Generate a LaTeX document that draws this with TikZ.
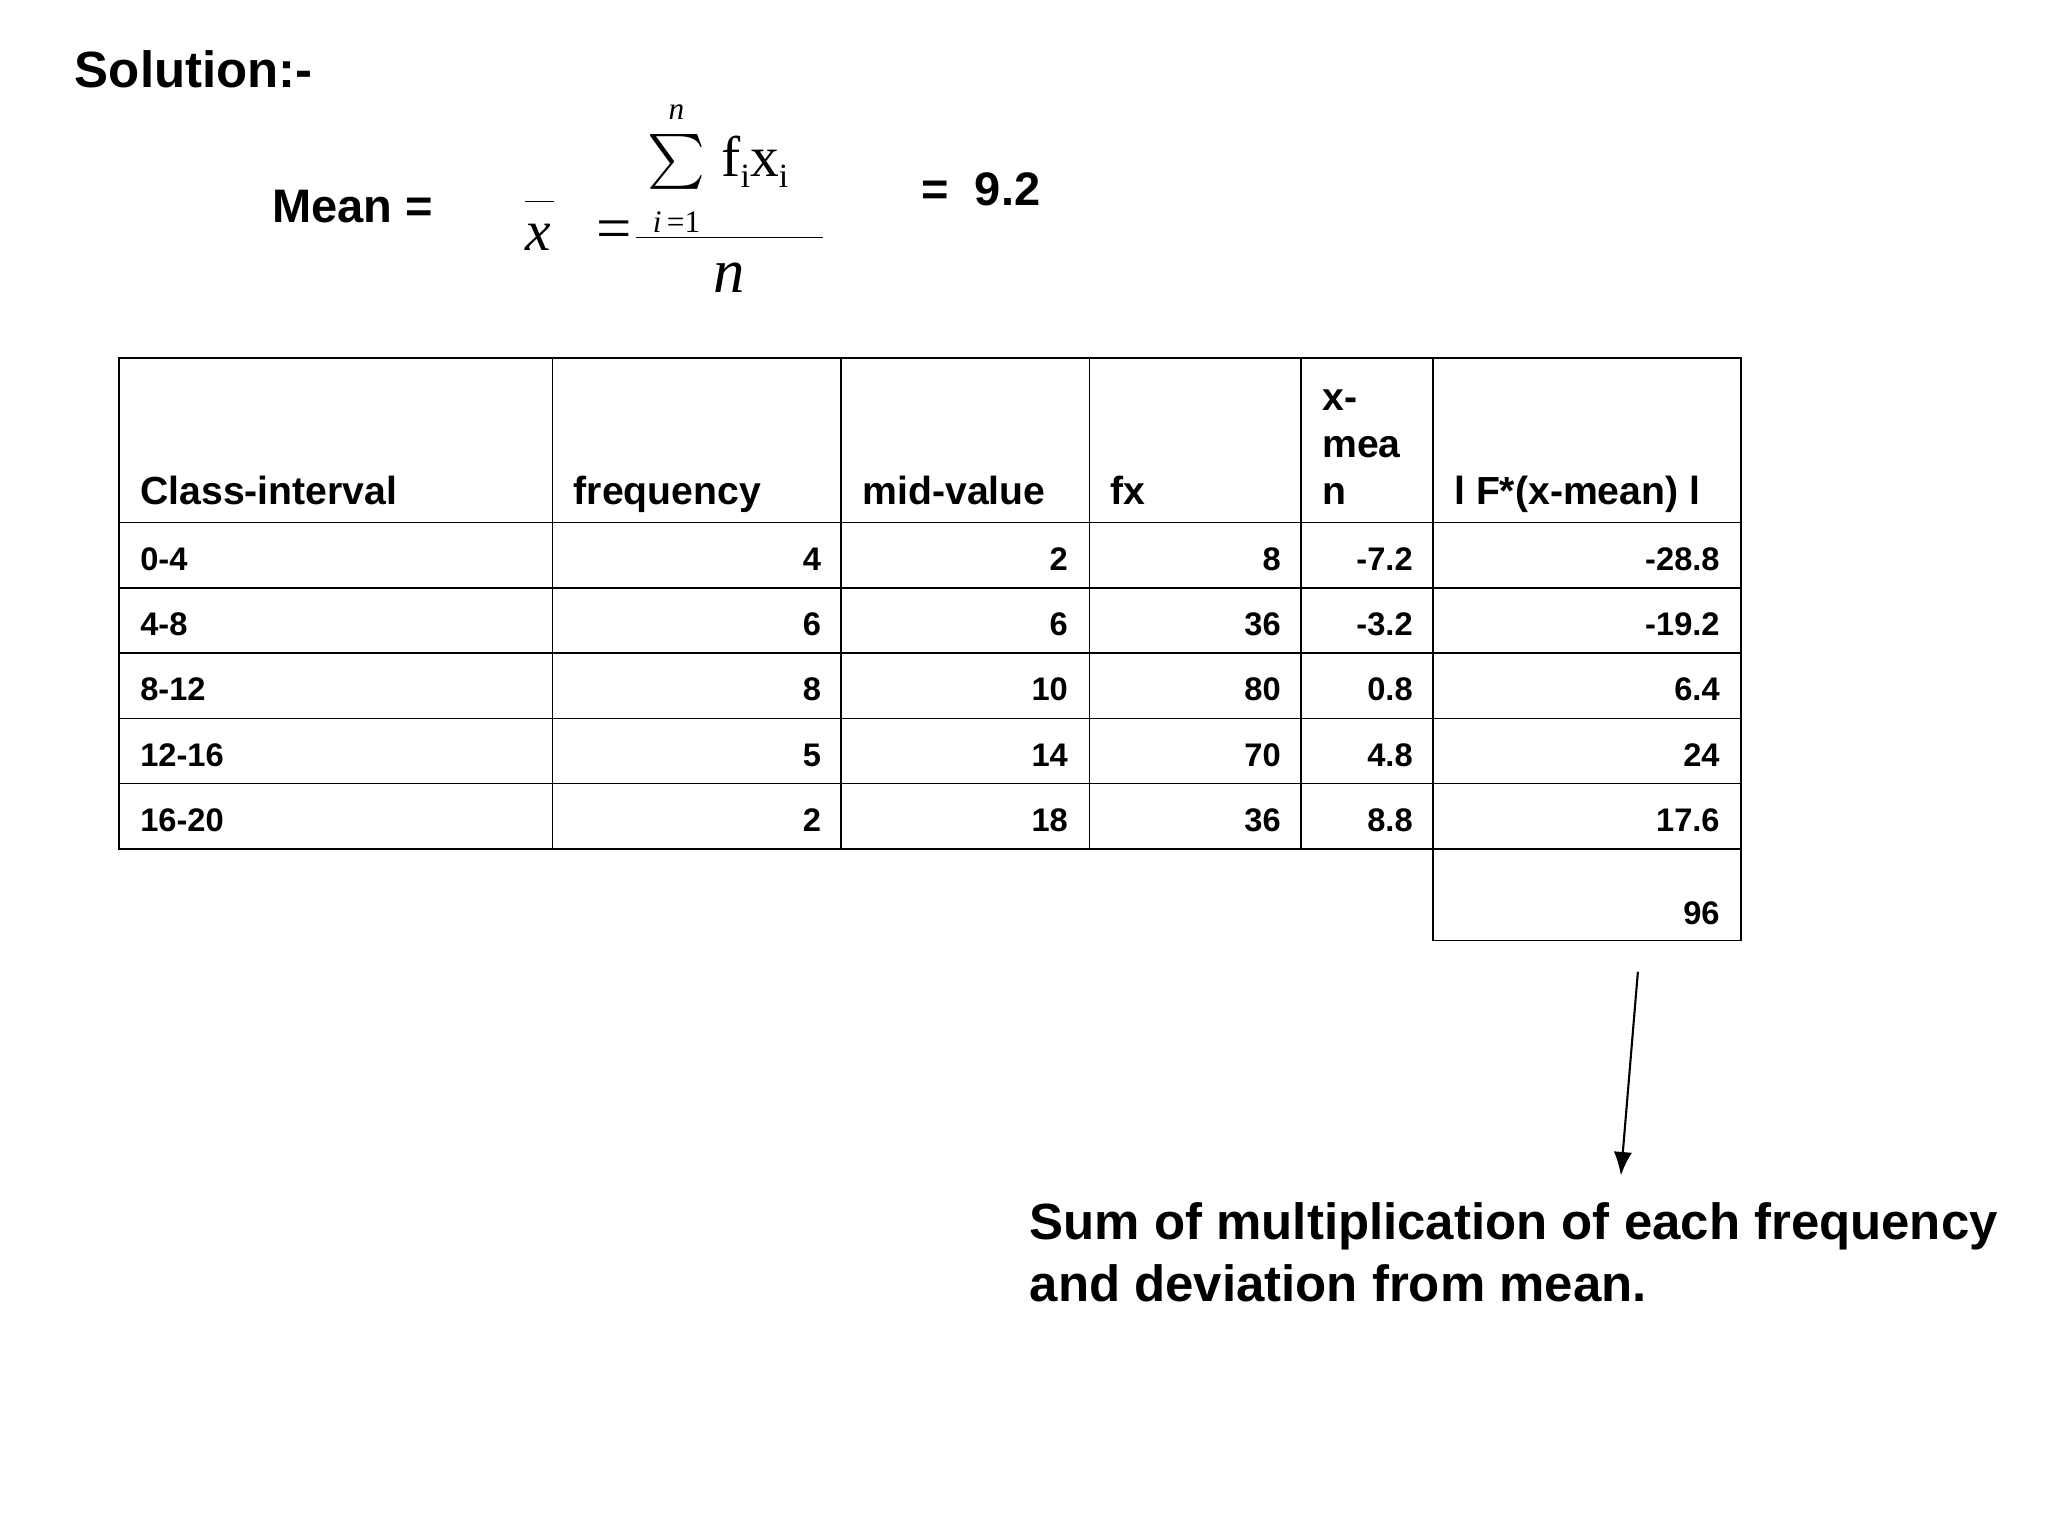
\documentclass[tikz,border=0pt]{standalone}
\usepackage{fontspec}
\usetikzlibrary{arrows.meta}
\setmainfont{Liberation Sans}
\newfontfamily\serifx{Liberation Serif}
\begin{document}
\begin{tikzpicture}[x=0.5pt,y=-0.5pt,
  hd/.style={font=\bfseries\fontsize{15}{18}\selectfont,inner sep=0},
  dt/.style={font=\bfseries\fontsize{12.5}{15}\selectfont,inner sep=0},
  big/.style={font=\bfseries\fontsize{19.5}{24}\selectfont,inner sep=0},
  sr/.style={font=\serifx,inner sep=0},
  cell/.style={draw=black,line width=0.6pt}]
\useasboundingbox (0,0) rectangle (1568,1176);
\node[big,anchor=west] (sol) at (57,53) {Solution:-};
\node[font=\bfseries\fontsize{18}{22}\selectfont,anchor=west,inner sep=0] (mean) at (208,158) {Mean =};
\node[font=\bfseries\fontsize{18}{22}\selectfont,anchor=west,inner sep=0] (res) at (705,145) {=\ \ 9.2};
% formula
\node[sr,font=\serifx\itshape\fontsize{22}{26}\selectfont] (xb) at (412,182) {x};
\draw (402,154) -- (424,154);
\node[sr,font=\serifx\fontsize{24}{26}\selectfont] (eq) at (470,180) {=};
\node[inner sep=0] (sum) at (518,124) {\scalebox{2.1}{$\sum$}};
\node[sr,font=\serifx\itshape\fontsize{12}{14}\selectfont] (nt) at (518,86) {n};
\node[sr,font=\serifx\fontsize{12}{14}\selectfont] (ib) at (518,170) {\textit{i}\,=1};
\node[sr,font=\serifx\fontsize{22}{26}\selectfont,anchor=west] (fx) at (552,124) {f\raisebox{-0.4ex}{\fontsize{13}{14}\selectfont i}x\raisebox{-0.4ex}{\fontsize{13}{14}\selectfont i}};
\draw (487,182) -- (630,182);
\node[sr,font=\serifx\itshape\fontsize{24}{26}\selectfont] (nb) at (558,213) {n};
% table
\foreach \a/\b in {91/423,423/644,644/834,834/996,996/1097,1097/1333}{
  \draw[cell] (\a,274) rectangle (\b,400);
  \foreach \r in {400,450,500,550,600}{\draw[cell] (\a,\r) rectangle (\b,\r+50);}
}
\draw[cell] (1097,650) rectangle (1333,720);
\node[hd,anchor=base west] (h1) at (107,386) {Class-interval};
\node[hd,anchor=base west] (h2) at (439,386) {frequency};
\node[hd,anchor=base west] (h3) at (660,386) {mid-value};
\node[hd,anchor=base west] (h4) at (850,386) {fx};
\node[hd,anchor=base west] (h5a) at (1012,314) {x-};
\node[hd,anchor=base west] (h5b) at (1012,350) {mea};
\node[hd,anchor=base west] (h5c) at (1012,386) {n};
\node[hd,anchor=base west] (h6) at (1113,386) {l F*(x-mean) l};
\foreach \y/\c/\f/\m/\fx/\d/\p [count=\i] in {
 428/0-4/4/2/8/-7.2/-28.8, 478/4-8/6/6/36/-3.2/-19.2, 528/8-12/8/10/80/0.8/6.4,
 578/12-16/5/14/70/4.8/24, 628/16-20/2/18/36/8.8/17.6}{
  \node[dt,anchor=west] (c\i) at (107,\y) {\c};
  \node[dt,anchor=east] (f\i) at (629,\y) {\f};
  \node[dt,anchor=east] (m\i) at (818,\y) {\m};
  \node[dt,anchor=east] (x\i) at (981,\y) {\fx};
  \node[dt,anchor=east] (d\i) at (1082,\y) {\d};
  \node[dt,anchor=east] (p\i) at (1317,\y) {\p};
}
\node[dt,anchor=east] (tot) at (1317,699) {96};
\coordinate (as) at (1254,744);
\node[big,anchor=north west,align=left] (note) at (788,920) {Sum of multiplication of each frequency\\and deviation from mean.};
\coordinate (ae) at (1241,900);
\draw[-{Latex[length=9pt,width=7pt]},line width=0.8pt] (as) -- (ae);
\end{tikzpicture}
\end{document}
